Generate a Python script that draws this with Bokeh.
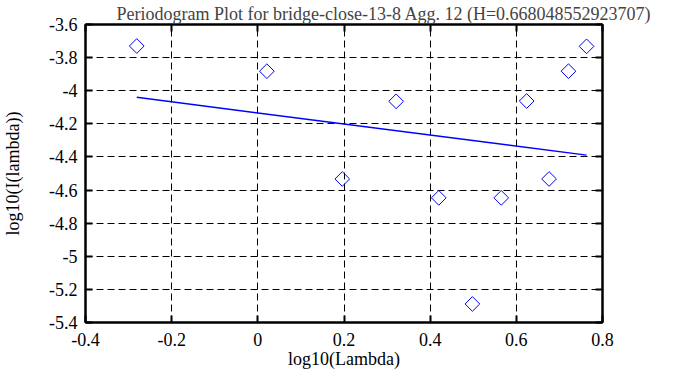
from bokeh.plotting import figure
from bokeh.models import Range1d, FixedTicker, LinearAxis
from bokeh.embed import file_html
from bokeh.resources import INLINE
import numpy as np

# Data
log_lambda = [-0.281, 0.021, 0.196, 0.321, 0.420, 0.498, 0.565, 0.624, 0.676, 0.721, 0.763]
log_I = [-3.730, -3.882, -4.533, -4.064, -4.647, -5.288, -4.647, -4.062, -4.533, -3.882, -3.732]
fit_x = [-0.281, 0.763]
fit_y = [-4.040, -4.389]

x_ticks = [-0.4, -0.2, 0.0, 0.2, 0.4, 0.6, 0.8]
x_tick_labels = ["-0.4", "-0.2", "0", "0.2", "0.4", "0.6", "0.8"]
y_ticks = [-3.6, -3.8, -4.0, -4.2, -4.4, -4.6, -4.8, -5.0, -5.2, -5.4]
y_tick_labels = ["-3.6", "-3.8", "-4", "-4.2", "-4.4", "-4.6", "-4.8", "-5", "-5.2", "-5.4"]

title_text = "Periodogram Plot for bridge-close-13-8 Agg. 12 (H=0.668048552923707)"
FONT = "'Liberation Serif', serif"

p = figure(width=679, height=371, output_backend="svg", toolbar_location=None,
           x_range=Range1d(-0.4, 0.8), y_range=Range1d(-5.4, -3.6),
           min_border_left=76, min_border_right=77, min_border_top=23, min_border_bottom=48)

p.title.text = title_text
p.title.text_font = FONT
p.title.text_font_size = "18px"
p.title.text_font_style = "normal"
p.title.align = "left"
p.title.offset = 31
p.title.standoff = 2

p.outline_line_color = "black"
p.outline_line_width = 2
p.background_fill_color = "white"
p.border_fill_color = "white"

def style_axis(ax):
    ax.axis_line_color = "black"
    ax.axis_line_width = 2
    ax.major_tick_in = 7
    ax.major_tick_out = 0
    ax.major_tick_line_width = 2
    ax.minor_tick_line_color = None
    ax.major_label_text_font = FONT
    ax.major_label_text_font_size = "18px"
    ax.major_label_text_color = "black"
    ax.axis_label_text_font = FONT
    ax.axis_label_text_font_size = "18px"
    ax.axis_label_text_font_style = "normal"
    ax.axis_label_text_color = "black"

xa = p.xaxis[0]
xa.ticker = FixedTicker(ticks=x_ticks)
xa.major_label_overrides = dict(zip(x_ticks, x_tick_labels))
xa.axis_label = "log10(Lambda)"
style_axis(xa)
xa.major_label_standoff = 10
xa.axis_label_standoff = 0

ya = p.yaxis[0]
ya.ticker = FixedTicker(ticks=y_ticks)
ya.major_label_overrides = dict(zip(y_ticks, y_tick_labels))
ya.axis_label = "log10(I(lambda))"
style_axis(ya)
ya.major_label_standoff = 8
ya.axis_label_standoff = 23

# mirrored ticks (no labels)
for loc, ticks in (("right", y_ticks), ("above", x_ticks)):
    ax = LinearAxis(ticker=FixedTicker(ticks=ticks))
    style_axis(ax)
    ax.major_label_overrides = dict(zip(ticks, [""] * len(ticks)))
    ax.major_label_standoff = 0
    p.add_layout(ax, loc)

p.xgrid.ticker = FixedTicker(ticks=x_ticks[1:-1])
p.ygrid.ticker = FixedTicker(ticks=y_ticks[1:-1])
for g in (p.xgrid[0], p.ygrid[0]):
    g.grid_line_color = "black"
    g.grid_line_width = 1
    g.grid_line_dash = "7 4"
    g.grid_line_alpha = 1.0

p.line(fit_x, fit_y, line_color="#0000ff", line_width=1.5)
p.scatter(log_lambda, log_I, marker="square", size=10.4, angle=np.pi / 4,
          fill_color=None, line_color="#0000ff", line_width=1)

open("out.html", "w").write(file_html(p, INLINE))
